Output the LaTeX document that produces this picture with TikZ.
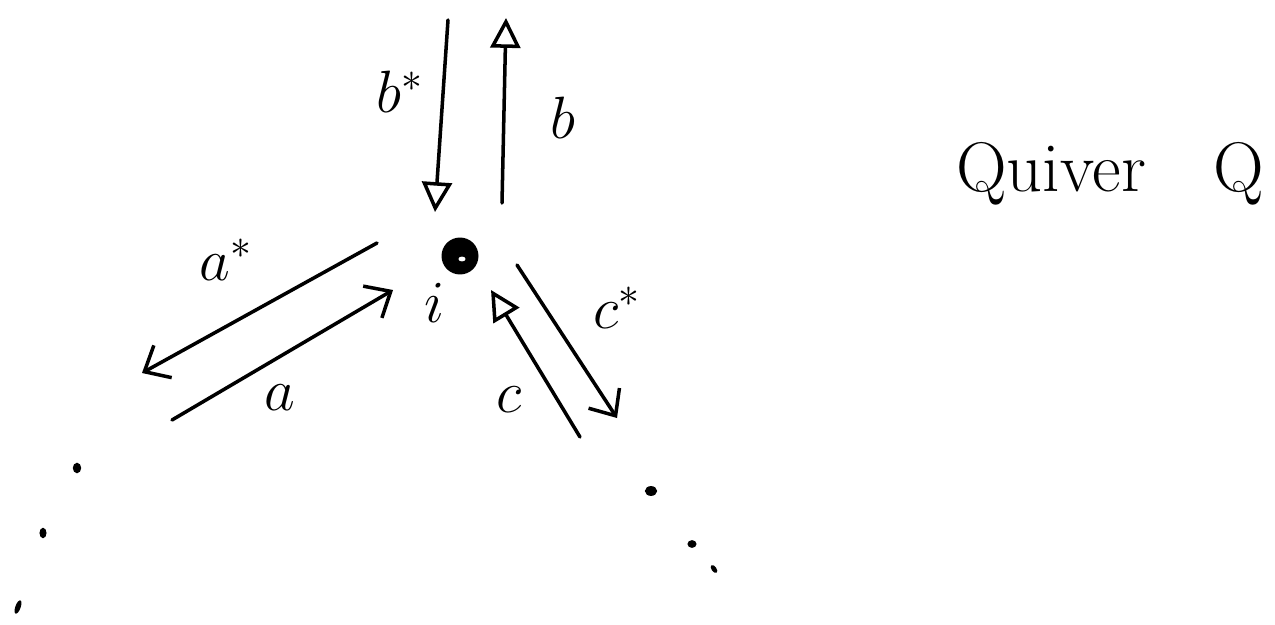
\RequirePackage{fix-cm}
\documentclass[tikz,border=0pt]{standalone}
\usetikzlibrary{arrows.meta}

\tikzset{
  stroke/.style={line width=2pt,line cap=round},
  tri/.style={stroke,-{Triangle[open,length=17pt,width=17pt]}},
  barb/.style={stroke,-{Straight Barb[length=12pt,width=21pt]}},
  lbl/.style={font=\fontsize{34}{40}\selectfont},
  speck/.style={fill=black}
}

\begin{document}
\begin{tikzpicture}[x=0.02cm,y=-0.02cm]

%% ── canvas ───────────────────────────────────────────────────────────────
\useasboundingbox (0,0) rectangle (1275,625);

%% ── vertex i ─────────────────────────────────────────────────────────────
\node[circle,fill=black,minimum size=0.74cm,inner sep=0pt] (vi) at (460,256) {};
\fill[white] (462,259) ellipse (2pt and 1.4pt);
\node[lbl] (li) at (434,303) {$i$};

%% ── arrow ends ───────────────────────────────────────────────────────────
\coordinate (bs0) at (448,20);   \coordinate (bs1) at (435,212);
\coordinate (b0)  at (502,203);  \coordinate (b1)  at (506,18);
\coordinate (as0) at (377,243);  \coordinate (as1) at (142,373);
\coordinate (a0)  at (172,420);  \coordinate (a1)  at (393,290);
\coordinate (c0)  at (580,437);  \coordinate (c1)  at (491,290);
\coordinate (cs0) at (517,265);  \coordinate (cs1) at (617,418);

%% ── arrows b, b* ─────────────────────────────────────────────────────────
\draw[tri] (bs0) -- (bs1);
\draw[tri] (b0) -- (b1);
\node[lbl] (lbs) at (400,92) {$b^{*}$};
\node[lbl] (lb)  at (563,118) {$b$};

%% ── arrows a, a* ─────────────────────────────────────────────────────────
\draw[barb] (as0) -- (as1);
\draw[barb] (a0) -- (a1);
\node[lbl] (las) at (226,260) {$a^{*}$};
\node[lbl] (la)  at (280,398) {$a$};

%% ── arrows c, c* ─────────────────────────────────────────────────────────
\draw[tri] (c0) -- (c1);
\draw[barb] (cs0) -- (cs1);
\node[lbl] (lc)  at (509,400) {$c$};
\node[lbl] (lcs) at (617,308) {$c^{*}$};

%% ── trailing dots ────────────────────────────────────────────────────────
\fill[speck] (77,468) ellipse (2.4pt and 3pt);
\fill[speck] (43,533) ellipse (2pt and 3pt);
\fill[speck,rotate around={70:(18,607)}] (18,607) ellipse (4pt and 1.5pt);
\fill[speck] (651,491) ellipse (3.5pt and 2.8pt);
\fill[speck] (692,544) ellipse (2.6pt and 2.2pt);
\fill[speck,rotate around={-55:(714,569)}] (714,569) ellipse (2.6pt and 1.4pt);

%% ── title ────────────────────────────────────────────────────────────────
\node[anchor=base west,font=\fontsize{40}{48}\selectfont] (title)
  at (950,192) {Quiver\hspace{1.35cm}Q};

\end{tikzpicture}
\end{document}
